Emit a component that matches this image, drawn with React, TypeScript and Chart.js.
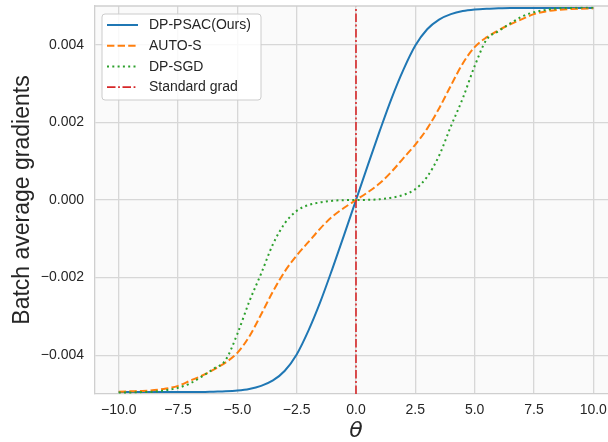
import React, { useEffect, useRef } from "react";
import { Chart, registerables } from "chart.js";

Chart.register(...registerables);

const THETA = [
  -10, -9.5, -9, -8.5, -8, -7.5, -7, -6.5, -6, -5.5, -5, -4.5, -4, -3.5, -3, -2.5, -2, -1.5, -1, -0.5,
  0, 0.5, 1, 1.5, 2, 2.5, 3, 3.5, 4, 4.5, 5, 5.5, 6, 6.5, 7, 7.5, 8, 8.5, 9, 9.5, 10,
];

const DP_PSAC = [
  -0.00495, -0.00495, -0.00495, -0.00495, -0.00495, -0.00495, -0.00495, -0.00495, -0.00494, -0.00493,
  -0.00491, -0.00487, -0.00479, -0.00465, -0.0044, -0.00398, -0.00336, -0.00262, -0.00178, -0.0009,
  0, 0.0009, 0.00178, 0.00262, 0.00336, 0.00398, 0.0044, 0.00465, 0.00479, 0.00487,
  0.00491, 0.00493, 0.00494, 0.00495, 0.00495, 0.00495, 0.00495, 0.00495, 0.00495, 0.00495, 0.00495,
];

const AUTO_S = [
  -0.00494, -0.00493, -0.00492, -0.0049, -0.00486, -0.00479, -0.00466, -0.00453, -0.00437, -0.00419,
  -0.00394, -0.00352, -0.00295, -0.00236, -0.00184, -0.00143, -0.00108, -0.00073, -0.00043, -0.0002,
  0, 0.0002, 0.00043, 0.00073, 0.00108, 0.00143, 0.00184, 0.00236, 0.00295, 0.00352,
  0.00394, 0.00419, 0.00437, 0.00453, 0.00466, 0.00479, 0.00486, 0.0049, 0.00492, 0.00493, 0.00494,
];

const DP_SGD = [
  -0.00496, -0.00496, -0.00495, -0.00494, -0.0049, -0.00484, -0.00473, -0.00455, -0.00435, -0.00413,
  -0.00345, -0.00262, -0.0019, -0.00114, -0.0006, -0.00028, -0.00013, -0.00006, -0.00002, -0.000003,
  0, 0.000003, 0.00002, 0.00006, 0.00013, 0.00028, 0.0006, 0.00114, 0.0019, 0.00262,
  0.00345, 0.00413, 0.00435, 0.00455, 0.00473, 0.00484, 0.0049, 0.00494, 0.00495, 0.00496, 0.00496,
];

const STANDARD_X = [0, 0];
const STANDARD_Y = [-0.005, 0.005];

const X_TICKS = [-10, -7.5, -5, -2.5, 0, 2.5, 5, 7.5, 10];
const Y_TICKS = [-0.004, -0.002, 0, 0.002, 0.004];
const LABELS = ["DP-PSAC(Ours)", "AUTO-S", "DP-SGD", "Standard grad"];

const TEXT = "#262626";
const GRID = "#d7d7d7";
const EDGE = "#cfcfcf";

const fmt = (v: number, d: number) => {
  const s = Math.abs(v).toFixed(d);
  return v < -1e-12 ? "\u2212" + s : s;
};

const framePlugin = {
  id: "frame",
  beforeDraw(chart: any) {
    const { ctx, chartArea: a } = chart;
    ctx.save();
    ctx.fillStyle = "#fafafa";
    ctx.fillRect(a.left, a.top, a.right - a.left, a.bottom - a.top);
    ctx.restore();
  },
  afterDraw(chart: any) {
    const { ctx, chartArea: a } = chart;
    ctx.save();
    ctx.strokeStyle = EDGE;
    ctx.lineWidth = 1.3;
    ctx.beginPath();
    ctx.moveTo(a.left, a.top);
    ctx.lineTo(a.right, a.top);
    ctx.lineTo(a.right, a.bottom);
    ctx.stroke();
    ctx.restore();
  },
};

const legendPlugin = {
  id: "boxLegend",
  afterDraw(chart: any) {
    const { ctx, chartArea: a } = chart;
    const x0 = a.left + 7;
    const y0 = a.top + 8;
    const w = 159;
    const h = 86;
    ctx.save();
    ctx.beginPath();
    if (ctx.roundRect) ctx.roundRect(x0, y0, w, h, 3);
    else ctx.rect(x0, y0, w, h);
    ctx.fillStyle = "rgba(255,255,255,0.85)";
    ctx.fill();
    ctx.strokeStyle = "#cccccc";
    ctx.lineWidth = 1;
    ctx.stroke();
    chart.data.datasets.forEach((ds: any, i: number) => {
      const cy = y0 + 11 + i * 20.7;
      ctx.strokeStyle = ds.borderColor;
      ctx.lineWidth = ds.borderWidth;
      ctx.setLineDash(ds.borderDash || []);
      ctx.beginPath();
      ctx.moveTo(x0 + 5, cy);
      ctx.lineTo(x0 + 36, cy);
      ctx.stroke();
      ctx.setLineDash([]);
      ctx.fillStyle = TEXT;
      ctx.font = "14px 'Liberation Sans', Arial, sans-serif";
      ctx.textAlign = "left";
      ctx.textBaseline = "middle";
      ctx.fillText(ds.label, x0 + 47, cy + 0.5);
    });
    ctx.restore();
  },
};

const pts = (xs: number[], ys: number[]) => xs.map((x, i) => ({ x, y: ys[i] }));

export default function App() {
  const ref = useRef<HTMLCanvasElement | null>(null);

  useEffect(() => {
    if (!ref.current) return;
    Chart.defaults.font.family = "'Liberation Sans', Arial, sans-serif";
    const chart = new Chart(ref.current, {
      type: "line",
      data: {
        datasets: [
          {
            label: LABELS[0],
            data: pts(THETA, DP_PSAC),
            borderColor: "#1f77b4",
            borderWidth: 2,
            pointRadius: 0,
            cubicInterpolationMode: "monotone",
            order: 3,
          },
          {
            label: LABELS[1],
            data: pts(THETA, AUTO_S),
            borderColor: "#ff7f0e",
            borderWidth: 2,
            borderDash: [7.4, 3.2],
            pointRadius: 0,
            cubicInterpolationMode: "monotone",
            order: 2,
          },
          {
            label: LABELS[2],
            data: pts(THETA, DP_SGD),
            borderColor: "#2ca02c",
            borderWidth: 2,
            borderDash: [2, 3.3],
            pointRadius: 0,
            cubicInterpolationMode: "monotone",
            order: 1,
          },
          {
            label: LABELS[3],
            data: pts(STANDARD_X, STANDARD_Y),
            borderColor: "#d62728",
            borderWidth: 1.6,
            borderDash: [8.5, 2.6, 1.8, 2.6],
            pointRadius: 0,
            order: 0,
          },
        ],
      } as any,
      options: {
        responsive: false,
        animation: false,
        events: [],
        layout: { padding: { left: 0, top: 6, right: 8, bottom: 0 } },
        plugins: { legend: { display: false }, tooltip: { enabled: false } },
        scales: {
          x: {
            type: "linear",
            min: -11,
            max: 11,
            afterBuildTicks: (s: any) => {
              s.ticks = X_TICKS.map((v) => ({ value: v }));
            },
            afterFit: (s: any) => {
              s.height = 48;
              s.paddingLeft = 0;
              s.paddingRight = 0;
              s.paddingTop = 0;
              s.paddingBottom = 0;
            },
            ticks: {
              color: TEXT,
              font: { size: 14 },
              padding: 8,
              maxRotation: 0,
              autoSkip: false,
              callback: (v: any) => fmt(Number(v), 1),
            },
            grid: { color: GRID, lineWidth: 1.3, drawTicks: false },
            border: { color: EDGE, width: 1.3 },
            title: {
              display: true,
              text: "\u03b8",
              color: TEXT,
              font: { family: "'DejaVu Sans', sans-serif", size: 22, style: "italic", lineHeight: 1 },
              padding: { top: 0, bottom: 0 },
            },
          },
          y: {
            type: "linear",
            min: -0.005,
            max: 0.005,
            afterBuildTicks: (s: any) => {
              s.ticks = Y_TICKS.map((v) => ({ value: v }));
            },
            afterFit: (s: any) => {
              s.width = 95;
              s.paddingLeft = 0;
              s.paddingRight = 0;
              s.paddingTop = 0;
              s.paddingBottom = 0;
            },
            ticks: {
              color: TEXT,
              font: { size: 14 },
              padding: 11,
              autoSkip: false,
              callback: (v: any) => fmt(Number(v), 3),
            },
            grid: { color: GRID, lineWidth: 1.3, drawTicks: false },
            border: { color: EDGE, width: 1.3 },
            title: {
              display: true,
              text: "Batch average gradients",
              color: TEXT,
              font: { size: 23 },
              padding: { top: 9, bottom: 0 },
            },
          },
        },
      } as any,
      plugins: [framePlugin, legendPlugin],
    });
    return () => chart.destroy();
  }, []);

  return (
    <div style={{ position: "absolute", left: 0, top: 0, width: 608, height: 442, overflow: "hidden", background: "#ffffff" }}>
      <canvas ref={ref} width={625} height={442} style={{ width: 625, height: 442, display: "block" }} />
    </div>
  );
}
